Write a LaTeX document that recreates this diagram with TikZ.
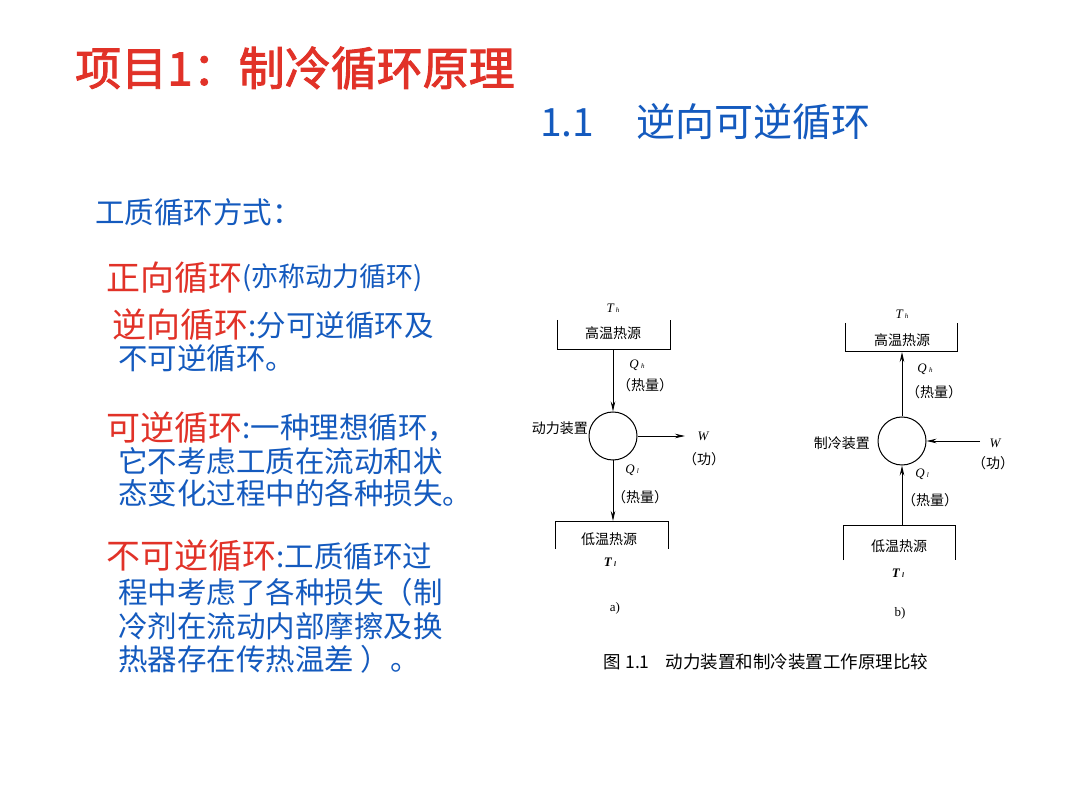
\documentclass[tikz,border=0pt]{standalone}
\usetikzlibrary{arrows.meta}
\usepackage{fontspec}
\newfontfamily\cjk{Noto Sans CJK SC}
\newfontfamily\cjkb{Noto Sans CJK SC}[FakeBold=2]
\setmainfont{Liberation Serif}
\definecolor{tred}{RGB}{225,50,40}
\definecolor{tblue}{RGB}{20,90,190}
\begin{document}
\begin{tikzpicture}[x=1pt,y=-1pt,
  bl/.style={anchor=west,text=tblue,font=\cjk\fontsize{29.5}{29.5}\selectfont,inner sep=0},
  rd/.style={anchor=west,text=tred,font=\cjk\fontsize{34}{34}\selectfont,inner sep=0},
  lbl/.style={font=\cjk\fontsize{14}{14}\selectfont,inner sep=0},
  ital/.style={font=\itshape\fontsize{13}{13}\selectfont,inner sep=0},
  ln/.style={line width=1pt},
  ar/.style={line width=0.9pt,-{Stealth[length=10pt,width=4.5pt]}}]
\useasboundingbox (0,0) rectangle (1080,810);
\fill[white] (0,0) rectangle (1080,810);
\node[anchor=west,text=tred,font=\cjkb\fontsize{46}{46}\selectfont,inner sep=0] (t1) at (75,68) {项目1：制冷循环原理};
\node[anchor=west,text=tblue,font=\cjk\fontsize{39}{39}\selectfont,inner sep=0] (t2) at (540,122) {1.1\hspace{42pt}逆向可逆循环};
\node[bl] (l0) at (95,212) {工质循环方式：};
\node[rd] (r1) at (106,278) {正向循环};
\node[bl,font=\cjk\fontsize{27}{27}\selectfont] (b1) at (r1.east) {(亦称动力循环)};
\node[rd] (r2) at (112,325) {逆向循环};
\node[bl] (b2) at (r2.east) {:分可逆循环及};
\node[bl] (b2b) at (118,358) {不可逆循环。};
\node[rd] (r3) at (106,428) {可逆循环};
\node[bl] (b3) at (r3.east) {:一种理想循环，};
\node[bl] (b3b) at (118,461) {它不考虑工质在流动和状};
\node[bl] (b3c) at (118,493) {态变化过程中的各种损失。};
\node[rd] (r4) at (106,556) {不可逆循环};
\node[bl] (b4) at (r4.east) {:工质循环过};
\node[bl] (b4b) at (118,592) {程中考虑了各种损失（制};
\node[bl] (b4c) at (118,626) {冷剂在流动内部摩擦及换};
\node[bl] (b4d) at (118,659) {热器存在传热温差 ）。};
% diagram a
\draw[ln] (557,320) -- (557,350) -- (670,350) -- (670,320);
\node[lbl] (ha) at (613,333) {高温热源};
\node[ital] (tha) at (613,308) {T\,\scriptsize h};
\node[draw,circle,line width=1pt,minimum size=48pt,inner sep=0] (ca) at (613,436) {};
\coordinate (hab) at (613,350);
\draw[ar] (hab) -- (ca.north);
\node[ital] at (637,365) {Q\,\scriptsize h};
\node[lbl] at (645,385) {（热量）};
\node[lbl,anchor=east] at (588,428) {动力装置};
\coordinate (wa) at (685,436);
\draw[ar] (ca.east) -- (wa);
\node[ital] at (703,436) {W};
\node[lbl] at (704,459) {（功）};
\node[ital] at (632,470) {Q\,\scriptsize l};
\node[lbl] at (640,497) {（热量）};
\coordinate (lat) at (613,521);
\draw[ar] (ca.south) -- (lat);
\draw[ln] (555,549) -- (555,521) -- (668,521) -- (668,549);
\node[lbl] (la) at (609,539) {低温热源};
\node[ital] at (610,562) {\bfseries T\,\scriptsize l};
\node[lbl,font=\rmfamily\fontsize{13}{13}\selectfont] at (615,608) {a)};
% diagram b
\draw[ln] (845,323) -- (845,352) -- (957,352) -- (957,323);
\node[lbl] (hb) at (902,340) {高温热源};
\node[ital] at (902,314) {T\,\scriptsize h};
\node[draw,circle,line width=1pt,minimum size=48pt,inner sep=0] (cb) at (902,441) {};
\coordinate (hbb) at (902,352);
\draw[ar] (cb.north) -- (hbb);
\node[ital] at (925,369) {Q\,\scriptsize h};
\node[lbl] at (934,392) {（热量）};
\node[lbl,anchor=east] at (870,443) {制冷装置};
\coordinate (wb) at (980,441);
\draw[ar] (wb) -- (cb.east);
\node[ital] at (995,443) {W};
\node[lbl] at (993,463) {（功）};
\node[ital] at (922,474) {Q\,\scriptsize l};
\node[lbl] at (930,500) {（热量）};
\coordinate (lbt) at (902,525);
\draw[ar] (lbt) -- (cb.south);
\draw[ln] (843,560) -- (843,525) -- (955,525) -- (955,560);
\node[lbl] (lb) at (899,546) {低温热源};
\node[ital] at (898,573) {\bfseries T\,\scriptsize l};
\node[lbl,font=\rmfamily\fontsize{13}{13}\selectfont] at (900,613) {b)};
\node[lbl,font=\cjk\fontsize{17.5}{17.5}\selectfont] (cap) at (766,662) {图 1.1\hspace{16pt}动力装置和制冷装置工作原理比较};
\end{tikzpicture}
\end{document}
